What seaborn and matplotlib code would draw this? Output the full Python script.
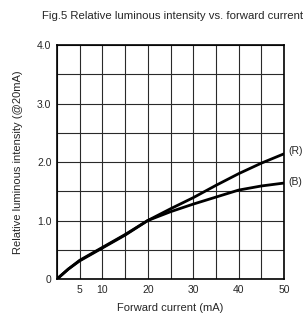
import pandas as pd
import numpy as np
import seaborn as sns
import matplotlib.pyplot as plt

# values
current = [0, 2.5, 5, 10, 15, 20, 25, 30, 35, 40, 45, 50]
red = [0, 0.17, 0.32, 0.54, 0.76, 1.0, 1.2, 1.39, 1.6, 1.8, 1.98, 2.14]
blue = [0, 0.17, 0.31, 0.53, 0.75, 1.0, 1.15, 1.28, 1.40, 1.52, 1.59, 1.64]
series_labels = ['(R)', '(B)']

x_ticks = [0, 5, 10, 15, 20, 25, 30, 35, 40, 45, 50]
x_ticklabels = ['', '5', '10', '', '20', '', '30', '', '40', '', '50']
y_ticks = [0, 0.5, 1.0, 1.5, 2.0, 2.5, 3.0, 3.5, 4.0]
y_ticklabels = ['0', '', '1.0', '', '2.0', '', '3.0', '', '4.0']

df = pd.DataFrame({
    'current': current * 2,
    'intensity': red + blue,
    'color': [series_labels[0]] * len(current) + [series_labels[1]] * len(current),
})

sns.set_style('white')
plt.rcParams['font.family'] = ['Liberation Sans', 'DejaVu Sans']

fig = plt.figure(figsize=(3.04, 3.16), dpi=100)
ax = fig.add_axes([57 / 304, 1 - 279 / 316, 227 / 304, 234 / 316])

sns.lineplot(data=df, x='current', y='intensity', hue='color',
             palette=['black', 'black'], linewidth=2, legend=False, ax=ax)

ax.set_xlim(0, 50)
ax.set_ylim(0, 4.0)
ax.set_xticks(x_ticks)
ax.set_xticklabels(x_ticklabels)
ax.set_yticks(y_ticks)
ax.set_yticklabels(y_ticklabels)
ax.tick_params(length=0, labelsize=7.5, pad=4)
ax.grid(True, color='#2a2a2a', linewidth=0.8)
for s in ax.spines.values():
    s.set_color('black')
    s.set_linewidth(1.2)

ax.set_xlabel('Forward current (mA)', fontsize=8, labelpad=6)
ax.set_ylabel('Relative luminous intensity (@20mA)', fontsize=8, labelpad=10)

# end labels
ax.text(51, red[-1] + 0.04, series_labels[0], fontsize=7.5, va='center', ha='left', clip_on=False)
ax.text(51, blue[-1] + 0.02, series_labels[1], fontsize=7.5, va='center', ha='left', clip_on=False)

fig.text(173 / 304, 1 - 16 / 316, 'Fig.5 Relative luminous intensity vs. forward current',
         fontsize=8.2, ha='center', va='center')

plt.savefig('out.png', dpi=100)
